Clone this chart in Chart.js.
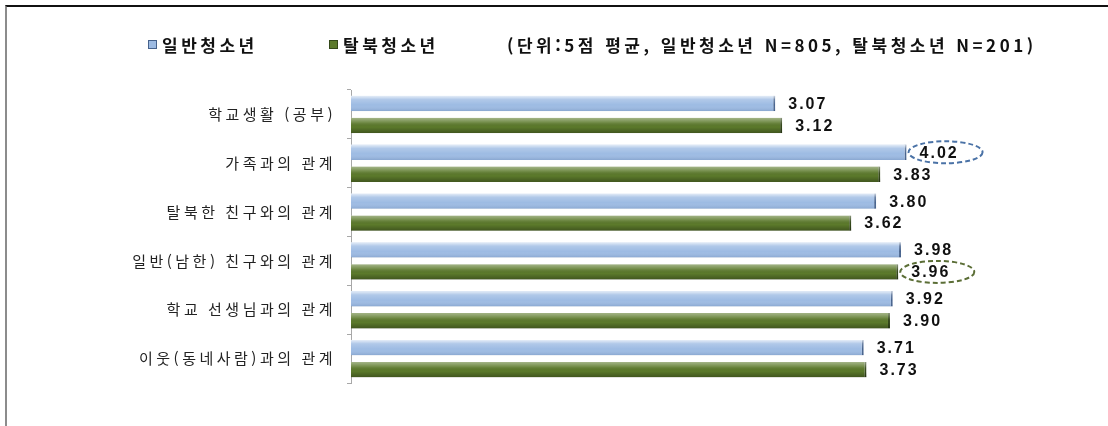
<!DOCTYPE html>
<html lang="ko">
<head>
<meta charset="utf-8">
<script src="https://cdn.jsdelivr.net/npm/chart.js@4.4.1/dist/chart.umd.min.js"></script>
<style>
body{margin:0;background:#fff;width:1108px;height:426px;overflow:hidden;position:relative;font-family:"Noto Sans CJK KR",sans-serif;}
#frame{position:absolute;left:5px;top:5px;right:0;bottom:0;border-top:2px solid #111;border-left:2px solid #8c8c8c;}
#myChart{position:absolute;left:0;top:0;}
.lg{position:absolute;top:32px;font-weight:bold;font-size:17px;letter-spacing:3.5px;color:#111;white-space:nowrap;line-height:26px;}
.lg i{display:inline-block;width:7px;height:7px;margin-right:5px;vertical-align:3px;}
</style>
</head>
<body>
<div id="frame"></div>
<canvas id="myChart" width="1108" height="426"></canvas>
<script>
const categories = ['학교생활 (공부)', '가족과의 관계', '탈북한 친구와의 관계', '일반(남한) 친구와의 관계', '학교 선생님과의 관계', '이웃(동네사람)과의 관계'];
const seriesNames = ['일반청소년', '탈북청소년'];
const generalYouth = [3.07, 4.02, 3.80, 3.98, 3.92, 3.71];
const defectorYouth = [3.12, 3.83, 3.62, 3.96, 3.90, 3.73];
const noteText = '(단위:5점 평균, 일반청소년 N=805, 탈북청소년 N=201)';
// which values get the dashed ellipse: [dataset, index]
const circled = [[0, 1], [1, 3]];

const colors = ['#9dbbe3', '#5c7a2b'];
const edgeColors = ['#46628c', '#34481a'];
const ringColors = ['#4a72a6', '#5b6e36'];

// legend row (html)
const legendLeft = [148, 329];
seriesNames.forEach((name, i) => {
    const d = document.createElement('div');
    d.className = 'lg';
    d.style.left = legendLeft[i] + 'px';
    d.innerHTML = '<i style="background:' + colors[i] + ';border:1px solid ' + edgeColors[i] + '"></i>' + name;
    document.body.appendChild(d);
});
const note = document.createElement('div');
note.className = 'lg';
note.style.left = '507px';
note.textContent = noteText;
document.body.appendChild(note);

const spacingPlugin = {
    id: 'spacing',
    beforeDraw(chart) { chart.ctx.letterSpacing = '3.5px'; },
    afterDraw(chart) { chart.ctx.letterSpacing = '0px'; }
};

const barLook = {
    id: 'barLook',
    afterDatasetsDraw(chart) {
        const ctx = chart.ctx;
        chart.data.datasets.forEach((ds, di) => {
            const meta = chart.getDatasetMeta(di);
            meta.data.forEach((bar, i) => {
                const top = bar.y - bar.height / 2;
                const left = bar.base;
                const w = bar.x - bar.base;
                const g = ctx.createLinearGradient(0, top, 0, top + bar.height);
                if (di === 0) {
                    g.addColorStop(0, 'rgba(255,255,255,0.75)');
                    g.addColorStop(0.25, 'rgba(255,255,255,0.2)');
                    g.addColorStop(0.6, 'rgba(255,255,255,0)');
                    g.addColorStop(1, 'rgba(40,70,120,0.18)');
                } else {
                    g.addColorStop(0, 'rgba(255,255,255,0.45)');
                    g.addColorStop(0.3, 'rgba(255,255,255,0.15)');
                    g.addColorStop(0.6, 'rgba(0,0,0,0)');
                    g.addColorStop(1, 'rgba(0,0,0,0.3)');
                }
                ctx.save();
                ctx.fillStyle = g;
                ctx.fillRect(left, top, w, bar.height);
                ctx.restore();

                // value label
                ctx.save();
                ctx.letterSpacing = '2px';
                ctx.font = 'bold 16px "Liberation Sans", Arial, sans-serif';
                ctx.fillStyle = '#111';
                ctx.textBaseline = 'middle';
                ctx.fillText(ds.data[i].toFixed(2), bar.x + 13, bar.y + 1);
                ctx.restore();
            });
        });
        // dashed ellipses
        circled.forEach(([di, i]) => {
            const bar = chart.getDatasetMeta(di).data[i];
            ctx.save();
            ctx.strokeStyle = ringColors[di];
            ctx.lineWidth = 2;
            ctx.setLineDash([5, 3]);
            ctx.beginPath();
            ctx.ellipse(bar.x + 39, bar.y, 37, 11, 0, 0, Math.PI * 2);
            ctx.stroke();
            ctx.restore();
        });
    }
};

const ctx = document.getElementById('myChart');
new Chart(ctx, {
    type: 'bar',
    data: {
        labels: categories,
        datasets: [
            { label: seriesNames[0], data: generalYouth, backgroundColor: colors[0], borderColor: edgeColors[0],
              borderWidth: {top: 0, right: 2, bottom: 0, left: 0}, borderSkipped: false,
              categoryPercentage: 0.9, barPercentage: 0.7 },
            { label: seriesNames[1], data: defectorYouth, backgroundColor: colors[1], borderColor: edgeColors[1],
              borderWidth: {top: 0, right: 2, bottom: 0, left: 0}, borderSkipped: false,
              categoryPercentage: 0.9, barPercentage: 0.7 }
        ]
    },
    options: {
        responsive: false,
        animation: false,
        indexAxis: 'y',
        layout: { padding: { top: 90, bottom: 43, right: 66, left: 0 } },
        plugins: { legend: { display: false }, tooltip: { enabled: false } },
        scales: {
            x: { display: false, min: 0, max: 5 },
            y: {
                afterFit(s) { s.width = 351; },
                grid: { drawOnChartArea: false, tickLength: 4, color: '#a8a8a8', offset: true },
                border: { color: '#a8a8a8' },
                ticks: { color: '#222', padding: 11, font: { family: '"Noto Sans CJK KR"', size: 15 } }
            }
        }
    },
    plugins: [spacingPlugin, barLook]
});
</script>
</body>
</html>
